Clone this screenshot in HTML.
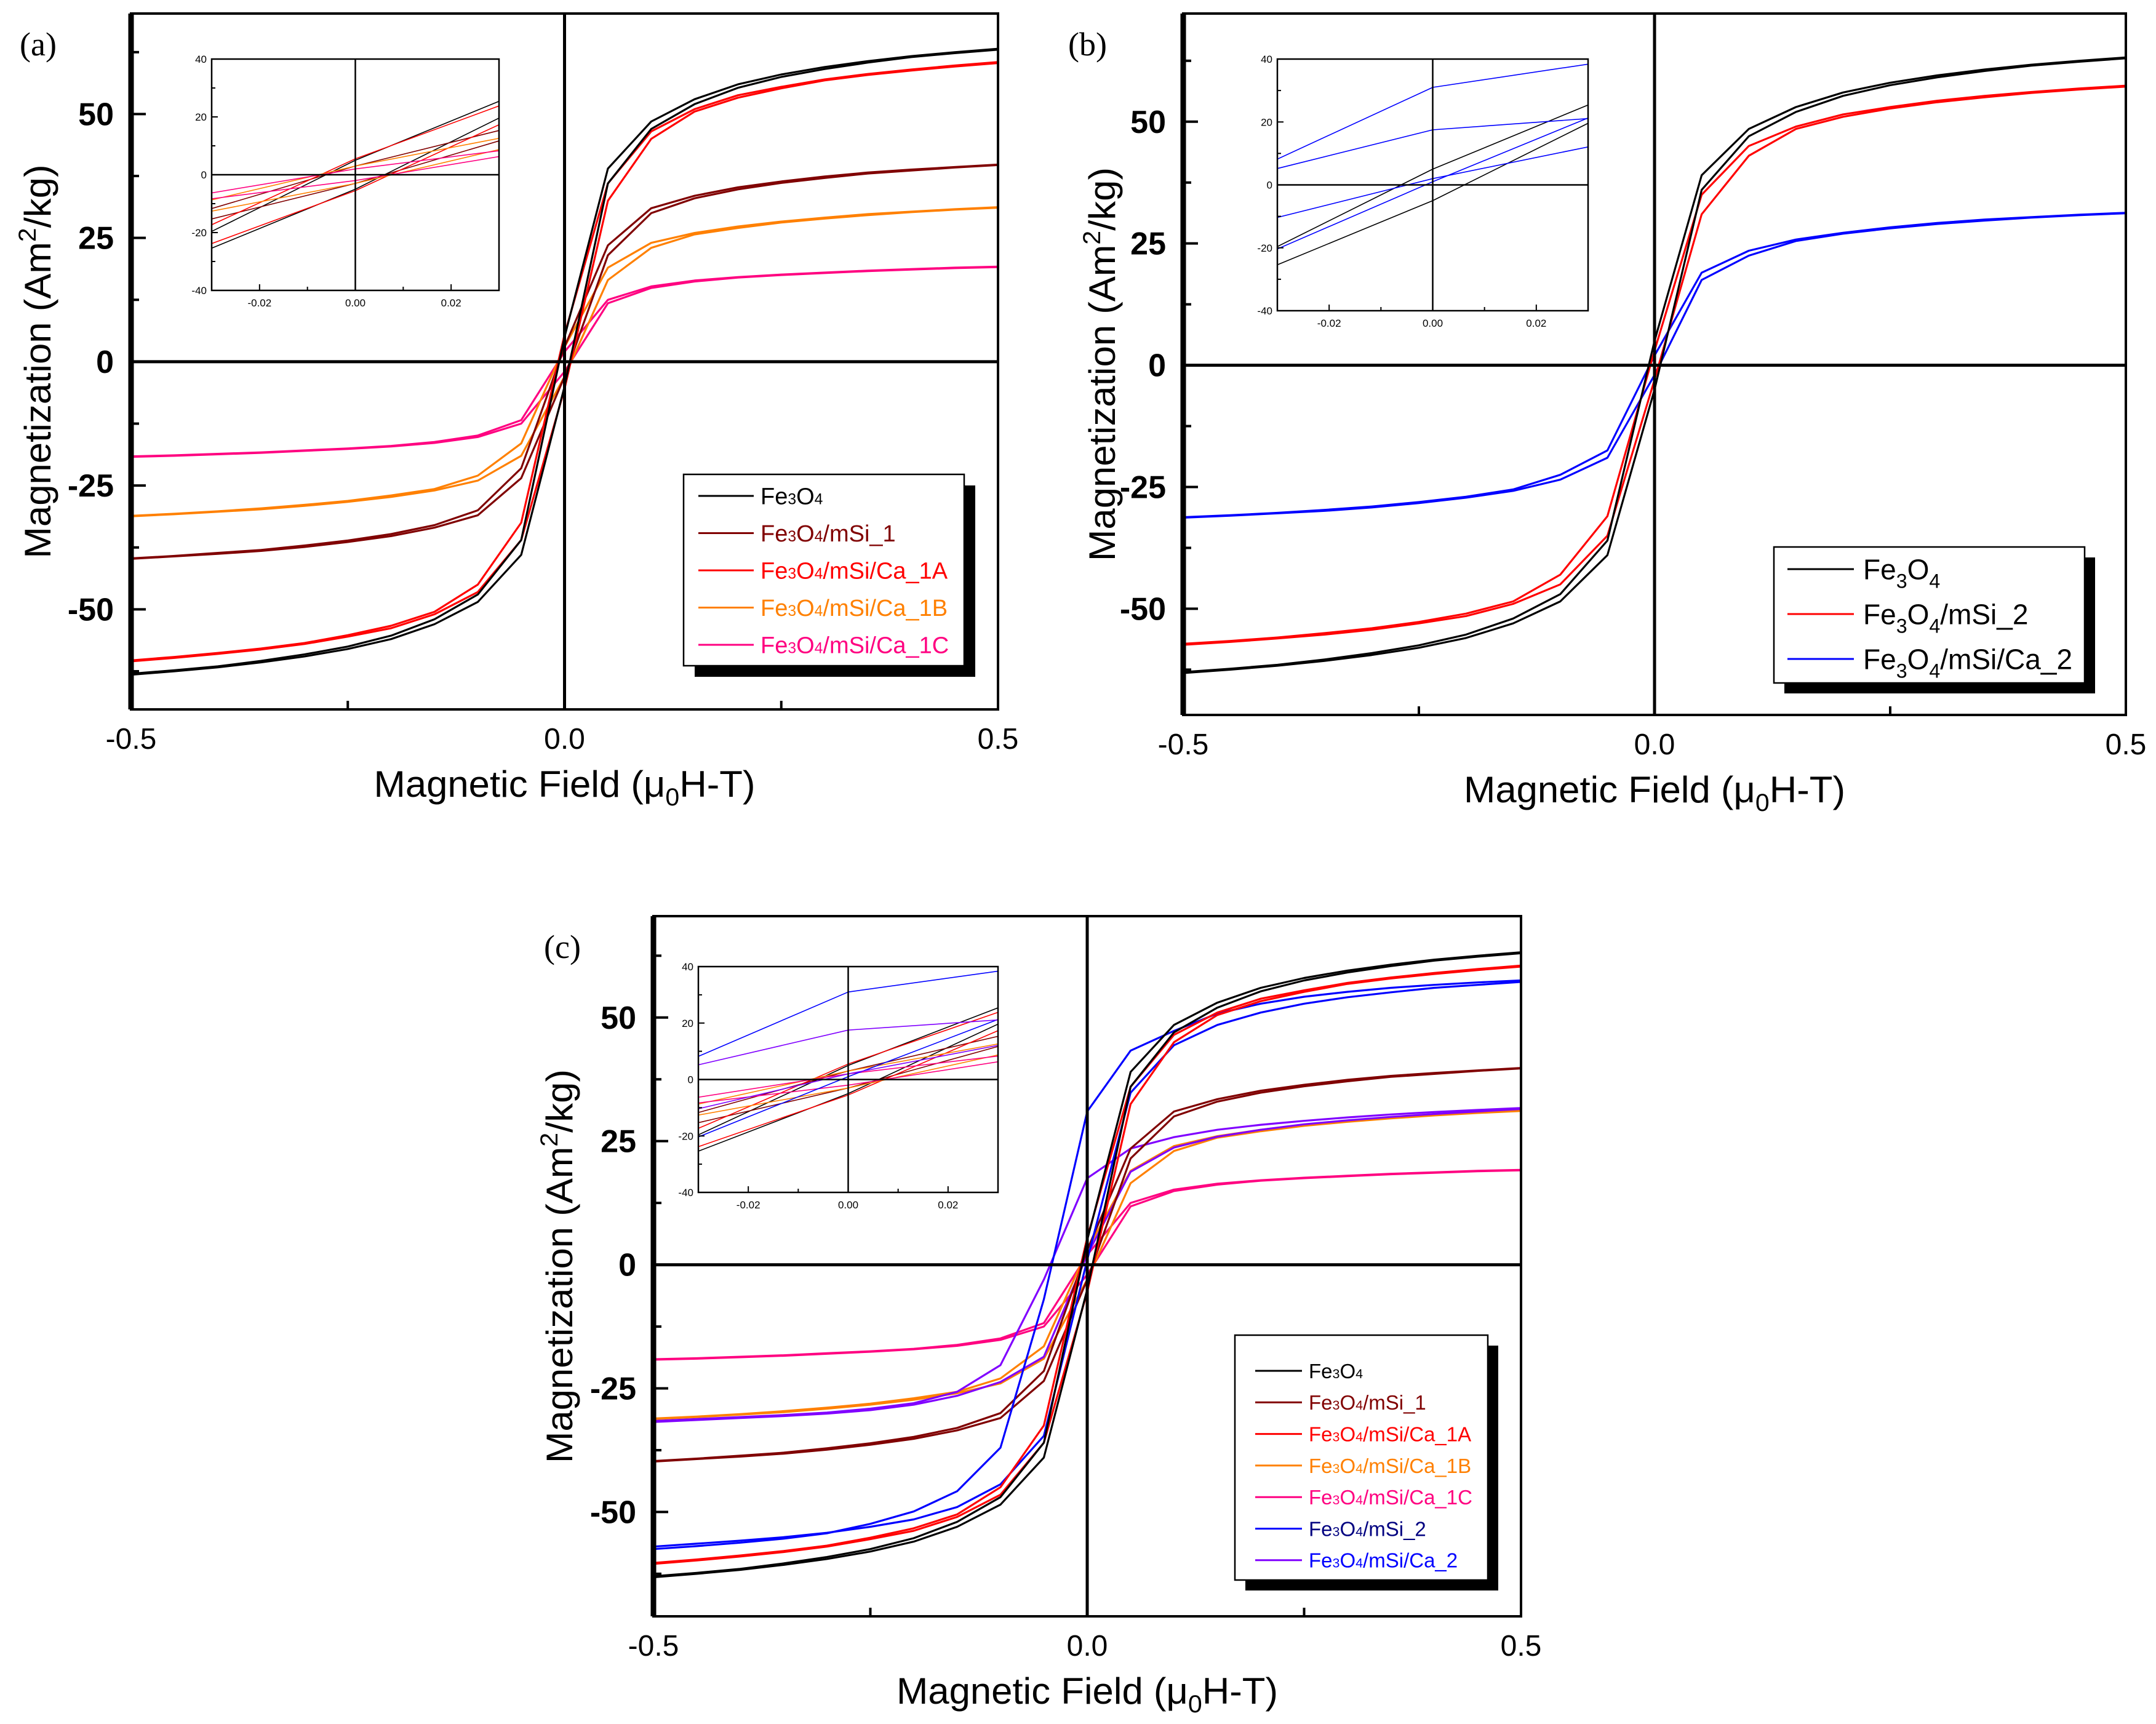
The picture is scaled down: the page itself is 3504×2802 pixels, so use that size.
<!DOCTYPE html>
<html><head><meta charset="utf-8"><style>
html,body{margin:0;padding:0;background:#fff;}
svg{display:block;}
text{font-family:"Liberation Sans",Arial,sans-serif;}
</style></head>
<body>
<svg id="fig" width="3504" height="2802" viewBox="0 0 3504 2802" xmlns="http://www.w3.org/2000/svg"></svg>
<script>
// ---- data ----
const fieldsPos = [0.05,0.1,0.15,0.2,0.25,0.3,0.35,0.4,0.45,0.5];
const fieldsAll = [-0.5,-0.45,-0.4,-0.35,-0.3,-0.25,-0.2,-0.15,-0.1,-0.05,0,0.05,0.1,0.15,0.2,0.25,0.3,0.35,0.4,0.45,0.5];
const fe3o4M0 = 5;
const fe3o4Up = [39,48.5,53,56,58,59.5,60.7,61.7,62.5,63.2];
const fe3o4Lo = [36,47,52,55.3,57.5,59.1,60.4,61.5,62.3,63];
const msi1M0 = 3;
const msi1Up = [23.5,31,33.5,35.2,36.4,37.4,38.2,38.8,39.3,39.8];
const msi1Lo = [21.5,30,33,34.8,36.1,37.1,38,38.6,39.2,39.7];
const ca1aM0 = 5.5;
const ca1aUp = [36,46.5,51,53.8,55.5,57,58.1,59,59.8,60.5];
const ca1aLo = [32.5,45,50.5,53.3,55.2,56.8,57.9,58.8,59.6,60.3];
const ca1bM0 = 3;
const ca1bUp = [19,24,26,27.3,28.3,29.1,29.8,30.3,30.8,31.2];
const ca1bLo = [16.5,23,25.7,27,28.1,28.9,29.6,30.2,30.7,31.1];
const ca1cM0 = 2;
const ca1cUp = [12.5,15.2,16.4,17.1,17.6,18,18.4,18.7,19,19.2];
const ca1cLo = [11.8,14.9,16.2,17,17.5,17.9,18.3,18.6,18.9,19.1];
const msi2bM0 = 3;
const msi2bUp = [35,45,49,51.5,53,54.3,55.3,56.1,56.8,57.4];
const msi2bLo = [31,43,48.5,51,52.7,54,55,55.9,56.6,57.2];
const ca2bM0 = 2;
const ca2bUp = [19,23.5,25.8,27.2,28.3,29.2,29.9,30.4,30.9,31.3];
const ca2bLo = [17.5,22.5,25.5,27,28.1,29,29.7,30.3,30.8,31.2];
const msi2cUpper = [-57.5,-56.9,-56.2,-55.4,-54.3,-52.4,-49.9,-45.8,-37,-7,31,43.3,47.3,50.8,52.8,54.2,55.2,56,56.6,57.1,57.5];
const msi2cLower = [-57,-56.4,-55.8,-55.1,-54.2,-53,-51.5,-49,-44.4,-34.6,1,34.8,44.4,48.5,51,52.8,54.1,55.1,56,56.6,57.2];
const ca2cUpper = [-31.6,-31.2,-30.8,-30.4,-29.9,-29.1,-28,-25.7,-20.3,-3,17.5,23.5,25.8,27.3,28.3,29.1,29.8,30.4,30.9,31.3,31.7];
const ca2cLower = [-31.8,-31.4,-31,-30.6,-30.1,-29.4,-28.3,-26.5,-23.7,-18.6,2,18.8,23.7,25.9,27.3,28.4,29.2,29.9,30.5,31,31.5];
const yTickLabels = ["-50","-25","0","25","50"];
const yTickValues = [-50,-25,0,25,50];
const xTickLabels = ["-0.5","0.0","0.5"];
const xTickValues = [-0.5,0,0.5];
const insetXTicks = [-0.02,0,0.02];
const insetXLabels = ["-0.02","0.00","0.02"];
const insetYTicks = [-40,-20,0,20,40];
const insetYLabels = ["-40","-20","0","20","40"];

const NS="http://www.w3.org/2000/svg";
const svg=document.getElementById('fig');
function el(tag,attrs,parent){const e=document.createElementNS(NS,tag);for(const k in attrs)e.setAttribute(k,attrs[k]);(parent||svg).appendChild(e);return e;}

function symLoop(m0,up,lo){
  const upper=[],lower=[];
  for(let i=fieldsPos.length-1;i>=0;i--){upper.push([-fieldsPos[i],-lo[i]]);lower.push([-fieldsPos[i],-up[i]]);}
  upper.push([0,m0]);lower.push([0,-m0]);
  for(let i=0;i<fieldsPos.length;i++){upper.push([fieldsPos[i],up[i]]);lower.push([fieldsPos[i],lo[i]]);}
  return [upper,lower];
}
function fullLoop(u,l){return [fieldsAll.map((h,i)=>[h,u[i]]),fieldsAll.map((h,i)=>[h,l[i]])];}

const C={blk:'#000000',dr:'#800000',red:'#ff0000',org:'#ff8000',pink:'#ff0080',blue:'#0000ff',purp:'#8000ff'};
const S={
  fe3o4:{loop:symLoop(fe3o4M0,fe3o4Up,fe3o4Lo),c:C.blk},
  msi1:{loop:symLoop(msi1M0,msi1Up,msi1Lo),c:C.dr},
  ca1a:{loop:symLoop(ca1aM0,ca1aUp,ca1aLo),c:C.red},
  ca1b:{loop:symLoop(ca1bM0,ca1bUp,ca1bLo),c:C.org},
  ca1c:{loop:symLoop(ca1cM0,ca1cUp,ca1cLo),c:C.pink},
  msi2b:{loop:symLoop(msi2bM0,msi2bUp,msi2bLo),c:C.red},
  ca2b:{loop:symLoop(ca2bM0,ca2bUp,ca2bLo),c:C.blue},
  msi2c:{loop:fullLoop(msi2cUpper,msi2cLower),c:C.blue},
  ca2c:{loop:fullLoop(ca2cUpper,ca2cLower),c:C.purp}
};

let clipId=0;
function drawSeries(g,series,sx,sy,width,name,colorOverride){
  series.loop.forEach((br,bi)=>{
    const d=br.map((p,i)=>(i?'L':'M')+sx(p[0]).toFixed(1)+','+sy(p[1]).toFixed(1)).join('');
    const p=el('path',{d:d,fill:'none',stroke:colorOverride||series.c,'stroke-width':width,'stroke-linejoin':'round'},g);
    
    
  });
}

function panel(cfg){
  const g=el('g',{});
  
  
  const {L,R,T,B,ymin,ymax}=cfg;
  const sx=h=>L+(h+0.5)/1*(R-L);
  const sy=m=>B-(m-ymin)/(ymax-ymin)*(B-T);
  const cid='clip'+(clipId++);
  const cp=el('clipPath',{id:cid},g);el('rect',{x:L,y:T,width:R-L,height:B-T},cp);
  const plot=el('g',{'clip-path':'url(#'+cid+')'},g);
  
  
  const zx=el('line',{x1:L,x2:R,y1:sy(0),y2:sy(0),stroke:'#000','stroke-width':5},g);
  
  
  const zy=el('line',{x1:sx(0),x2:sx(0),y1:T,y2:B,stroke:'#000','stroke-width':5},g);
  
  
  cfg.series.forEach(k=>drawSeries(plot,S[k],sx,sy,3.2,cfg.id+'-'+k));
  const fr=el('rect',{x:L,y:T,width:R-L,height:B-T,fill:'none',stroke:'#000','stroke-width':4},g);
  
  
  el('line',{x1:L,x2:L,y1:T,y2:B,stroke:'#000','stroke-width':9},g);
  for(let v=-62.5;v<=62.5;v+=12.5){
    const maj=Math.abs(v%25)<1e-6;
    el('line',{x1:L,x2:L+(maj?24:13),y1:sy(v),y2:sy(v),stroke:'#000','stroke-width':4},g);
  }
  yTickValues.forEach((v,i)=>{
    const t=el('text',{x:L-28,y:sy(v)+18,'text-anchor':'end','font-size':52,'font-weight':'bold'},g);
    t.textContent=yTickLabels[i];
    
    
  });
  for(let h=-0.5;h<=0.5001;h+=0.25){
    el('line',{x1:sx(h),x2:sx(h),y1:B,y2:B-14,stroke:'#000','stroke-width':4},g);
  }
  xTickValues.forEach((v,i)=>{
    const t=el('text',{x:sx(v),y:B+64,'text-anchor':'middle','font-size':48},g);
    t.textContent=xTickLabels[i];
    
    
  });
  const xt=el('text',{x:(L+R)/2,y:B+142,'text-anchor':'middle','font-size':60,textLength:620,lengthAdjust:'spacingAndGlyphs'},g);
  xt.innerHTML='Magnetic Field (μ<tspan font-size="40" dy="14">0</tspan><tspan dy="-14">H-T)</tspan>';
  
  
  const yt=el('text',{x:0,y:0,'text-anchor':'middle','font-size':60,transform:`translate(${cfg.ytx},${(T+B)/2}) rotate(-90)`,textLength:640,lengthAdjust:'spacingAndGlyphs'},g);
  yt.innerHTML='Magnetization (Am<tspan font-size="40" dy="-24">2</tspan><tspan dy="24">/kg)</tspan>';
  
  
  const pl=el('text',{x:cfg.plx,y:T+68,'font-size':54,style:'font-family:"Liberation Serif",serif'},g);
  pl.textContent='('+cfg.id.slice(-1)+')';
  
  
  const I=cfg.inset;
  const ig=el('g',{},g);
  
  
  el('rect',{x:I.L,y:I.T,width:I.R-I.L,height:I.B-I.T,fill:'#fff'},ig);
  const ix=h=>I.L+(h+0.03)/0.06*(I.R-I.L);
  const iy=m=>I.B-(m+40)/80*(I.B-I.T);
  const icid='clip'+(clipId++);
  const icp=el('clipPath',{id:icid},ig);el('rect',{x:I.L,y:I.T,width:I.R-I.L,height:I.B-I.T},icp);
  const ip=el('g',{'clip-path':'url(#'+icid+')'},ig);
  el('line',{x1:I.L,x2:I.R,y1:iy(0),y2:iy(0),stroke:'#000','stroke-width':2.5},ig);
  el('line',{x1:ix(0),x2:ix(0),y1:I.T,y2:I.B,stroke:'#000','stroke-width':2.5},ig);
  I.series.forEach(k=>drawSeries(ip,S[k[0]],ix,iy,1.6,cfg.id+'-inset-'+k[0],k[1]));
  el('rect',{x:I.L,y:I.T,width:I.R-I.L,height:I.B-I.T,fill:'none',stroke:'#000','stroke-width':2.5},ig);
  for(let v=-40;v<=40;v+=10){el('line',{x1:I.L,x2:I.L+(v%20===0?10:6),y1:iy(v),y2:iy(v),stroke:'#000','stroke-width':2},ig);}
  for(let h=-0.03;h<=0.0301;h+=0.01){el('line',{x1:ix(h),x2:ix(h),y1:I.B,y2:I.B-(Math.abs(Math.round(h*100))%2===0?10:6),stroke:'#000','stroke-width':2},ig);}
  insetYTicks.forEach((v,i)=>{const t=el('text',{x:I.L-8,y:iy(v)+6,'text-anchor':'end','font-size':17},ig);t.textContent=insetYLabels[i];});
  insetXTicks.forEach((v,i)=>{const t=el('text',{x:ix(v),y:I.B+26,'text-anchor':'middle','font-size':17},ig);t.textContent=insetXLabels[i];});
  const G=cfg.legend;
  const lg=el('g',{},g);
  
  
  el('rect',{x:G.L+G.sh,y:G.T+G.sh,width:G.R-G.L,height:G.B-G.T,fill:'#000'},lg);
  el('rect',{x:G.L,y:G.T,width:G.R-G.L,height:G.B-G.T,fill:'#fff',stroke:'#000','stroke-width':2.5},lg);
  G.items.forEach((it,i)=>{
    const y=G.y0+i*G.dy;
    const ln=el('line',{x1:G.lx1,x2:G.lx2,y1:y,y2:y,stroke:it[1],'stroke-width':3},lg);
    
    
    const t=el('text',{x:G.tx,y:y+G.fs*0.36,'font-size':G.fs,fill:it[2]||it[1]},lg);
    const rest=it[0];
    if(G.sub){
      t.innerHTML=`Fe<tspan font-size="${G.fs*0.7}" dy="${G.fs*0.3}">3</tspan><tspan dy="${-G.fs*0.3}">O</tspan><tspan font-size="${G.fs*0.7}" dy="${G.fs*0.3}">4</tspan><tspan dy="${-G.fs*0.3}">${rest}</tspan>`;
    } else {
      t.innerHTML=`Fe<tspan font-size="${G.fs*0.65}">3</tspan>O<tspan font-size="${G.fs*0.65}">4</tspan>${rest}`;
    }
    
    
  });
}

panel({id:'panel-a',L:213,R:1622,T:22,B:1153,ymin:-70.2,ymax:70.3,ytx:82,plx:32,
  series:['ca1c','ca1b','msi1','ca1a','fe3o4'],
  inset:{L:344,R:811,T:96,B:472,series:[['fe3o4'],['msi1'],['ca1a'],['ca1b'],['ca1c']]},
  legend:{L:1111,R:1567,T:771,B:1082,sh:18,y0:806,dy:60.5,lx1:1135,lx2:1225,tx:1236,fs:38,sub:false,
    items:[['',C.blk],['/mSi_1',C.dr],['/mSi/Ca_1A',C.red],['/mSi/Ca_1B',C.org],['/mSi/Ca_1C',C.pink]]}
});
panel({id:'panel-b',L:1923,R:3455,T:22,B:1162,ymin:-71.8,ymax:72.2,ytx:1812,plx:1736,
  series:['ca2b','msi2b','fe3o4'],
  inset:{L:2076,R:2581,T:96,B:505,series:[['fe3o4'],['msi2c',C.blue],['ca2c',C.blue]]},
  legend:{L:2883,R:3388,T:889,B:1110,sh:17,y0:925,dy:73,lx1:2905,lx2:3013,tx:3028,fs:46,sub:true,
    items:[['',C.blk],['/mSi_2',C.red,'#000'],['/mSi/Ca_2',C.blue,'#000']]}
});
panel({id:'panel-c',L:1062,R:2472,T:1489,B:2627,ymin:-71.1,ymax:70.5,ytx:930,plx:884,
  series:['ca1c','ca1b','ca2c','msi1','msi2c','ca1a','fe3o4'],
  inset:{L:1135,R:1622,T:1571,B:1938,series:[['fe3o4'],['msi1'],['ca1a'],['ca1b'],['ca1c'],['msi2c'],['ca2c']]},
  legend:{L:2007,R:2418,T:2170,B:2568,sh:17,y0:2228,dy:51.3,lx1:2040,lx2:2116,tx:2127,fs:33,sub:false,
    items:[['',C.blk],['/mSi_1',C.dr],['/mSi/Ca_1A',C.red],['/mSi/Ca_1B',C.org],['/mSi/Ca_1C',C.pink,C.pink],['/mSi_2',C.blue,'#000080'],['/mSi/Ca_2',C.purp,C.blue]]}
});
</script>
</body></html>
